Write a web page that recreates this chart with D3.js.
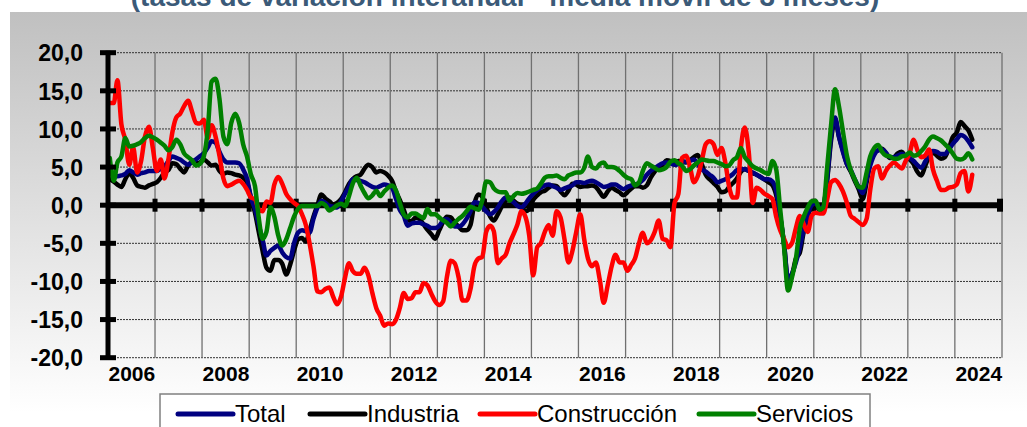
<!DOCTYPE html>
<html>
<head>
<meta charset="utf-8">
<script src="https://cdn.jsdelivr.net/npm/d3@7"></script>
<style>
  body { margin: 0; background: #fff; }
  svg { display: block; font-family: "Liberation Sans", Arial, sans-serif; }
</style>
</head>
<body>
<script>
// chart data: monthly values, Jan 2006 .. May 2024
const startYear = 2006, endYear = 2025;
const yearLabels = ["2006", "2008", "2010", "2012", "2014", "2016", "2018", "2020", "2022", "2024"];
const yTicks = [-20, -15, -10, -5, 0, 5, 10, 15, 20];
const seriesNames = ["Total", "Industria", "Construcción", "Servicios"];

const total = [
  4.3, 4.0, 3.8, 3.9, 4.1, 4.6, 4.3, 4.0, 4.2, 4.3, 4.5, 4.5,
  4.5, 4.8, 5.1, 5.8, 6.4, 6.2, 6.0, 5.6, 5.3, 5.7, 6.0, 6.4,
  6.8, 7.6, 8.4, 8.2, 7.0, 6.0, 5.6, 5.6, 5.6, 5.5, 4.7, 3.5,
  1.0, -0.5, -2.5, -4.5, -6.6, -6.0, -5.6, -5.3, -6.2, -6.8, -7.0, -5.0,
  -3.6, -3.3, -3.4, -3.6, -1.8, -0.3, 0.6, 0.3, -0.1, -0.2, -0.3, 0.5,
  1.5, 2.4, 3.4, 3.3, 3.2, 3.0, 2.7, 2.4, 2.3, 2.5, 2.7, 2.6,
  2.3, 0.8, -0.6, -1.4, -2.7, -2.4, -2.3, -2.3, -2.5, -2.7, -3.0, -3.0,
  -2.7, -2.0, -1.8, -2.3, -2.8, -2.8, -2.5, -1.8, -0.8, 0.4, 0.3, -0.2,
  -0.8, -1.2, -0.9, -0.3, 0.5, 1.0, 0.7, 0.4, -0.1, -0.3, 0.2, 0.9,
  1.5, 2.0, 2.3, 2.6, 2.7, 2.5, 2.3, 2.0, 2.2, 2.4, 2.6, 3.0,
  3.0, 2.9, 3.1, 3.2, 3.0, 2.7, 2.4, 2.5, 2.7, 2.7, 2.4, 2.1,
  2.4, 2.6, 2.7, 2.9, 3.3, 4.0, 4.5, 4.9, 5.2, 5.5, 5.6, 5.5,
  5.3, 5.4, 5.6, 5.7, 5.8, 6.0, 5.4, 4.7, 4.4, 4.0, 3.6, 3.0,
  3.2, 3.4, 3.7, 4.1, 4.6, 4.7, 4.7, 4.5, 4.3, 4.0, 3.7, 3.4,
  3.4, 3.1, 1.9, -1.4, -5.1, -9.6, -9.0, -7.5, -5.5, -3.2, -1.2, 0.0,
  0.3, -0.4, -0.2, 3.5, 9.0, 11.5, 9.0, 7.0, 5.4, 4.6, 3.4, 2.4,
  1.6, 3.4, 5.2, 6.6, 7.2, 7.3, 6.9, 6.3, 6.3, 6.5, 6.7, 6.5,
  6.2, 5.8, 5.3, 4.9, 5.7, 6.6, 7.1, 7.0, 6.7, 6.7, 7.3, 8.0,
  8.6, 9.2, 9.0, 8.4, 7.6
];

const industria = [
  3.4, 3.1, 2.7, 2.4, 3.4, 4.2, 3.6, 2.6, 2.4, 2.3, 2.6, 2.8,
  3.0, 3.6, 4.3, 4.6, 5.5, 5.4, 4.8, 4.3, 5.2, 5.6, 5.5, 5.6,
  6.0, 5.6, 5.2, 5.3, 4.5, 4.1, 4.3, 4.2, 4.0, 3.9, 3.6, 3.0,
  0.9, -1.0, -3.4, -6.0, -8.2, -8.6, -7.2, -7.2, -7.7, -9.1, -7.8, -6.0,
  -4.5, -4.3, -4.8, -3.3, -1.5, 0.0, 1.4, 0.9, 0.5, 0.1, 0.3, 0.8,
  1.7, 2.8, 3.4, 3.8, 4.0, 4.8, 5.3, 5.0, 4.3, 4.5, 4.3, 3.9,
  3.2, 1.8, 0.7, -0.6, -1.9, -2.1, -1.6, -1.8, -2.5, -3.2, -3.8, -4.4,
  -3.3, -2.2, -1.5, -1.6, -2.3, -2.8, -3.3, -3.3, -2.6, 0.2, 1.4, 1.1,
  -0.2, -1.5, -2.0, -1.2, -0.2, 0.6, 1.0, 0.6, 0.2, -0.1, -0.8, -0.5,
  0.7, 1.3, 1.7, 1.9, 2.3, 2.6, 2.5, 1.8, 1.3, 1.9, 2.8, 2.7,
  2.4, 2.5, 2.5, 2.6, 2.4, 1.7, 1.1, 1.8, 2.3, 2.0, 1.7, 1.3,
  1.7, 2.2, 2.5, 2.5, 2.3, 2.6, 3.6, 4.4, 5.0, 5.3, 5.9, 5.8,
  5.4, 5.8, 5.8, 5.6, 5.9, 6.3, 6.6, 5.4, 4.0, 3.4, 2.9, 2.4,
  1.7, 1.8, 2.4, 2.9, 3.5, 4.4, 4.7, 4.5, 4.2, 4.0, 3.7, 3.4,
  3.0, 2.6, 1.3, -1.5, -5.0, -10.0, -9.2, -7.0, -6.2, -3.5, -1.5, -0.1,
  0.2, -0.7, -0.2, 3.3, 8.5, 11.3, 9.0, 7.2, 5.4, 4.4, 3.2, 2.1,
  0.8, 3.0, 5.6, 6.9, 7.2, 7.4, 6.8, 6.2, 6.3, 6.8, 7.0, 6.4,
  6.0, 5.4, 4.4, 3.9, 5.1, 6.4, 6.9, 6.5, 6.1, 6.3, 7.4, 8.9,
  9.5, 10.9, 10.4, 9.8, 8.6
];

const construccion = [
  13.4, 13.4, 16.4, 10.6, 8.6, 5.3, 7.6, 4.3, 5.8, 9.0, 10.3, 7.5,
  4.5, 6.0, 3.5, 6.0, 9.5, 11.5, 12.0, 13.0, 13.7, 12.3, 10.8, 10.7,
  11.2, 8.8, 10.5, 9.0, 6.5, 3.5, 2.5, 2.7, 3.0, 3.2, 2.8, 2.0,
  1.0, 0.8, -0.5, -0.8, 0.5, 0.3, 2.7, 3.7, 2.8, 1.5, 0.8, 0.3,
  -0.1, -1.2, -2.5, -5.0, -8.0, -11.3, -11.4, -11.0, -10.8, -12.0, -13.0, -12.0,
  -9.5, -7.6, -8.6, -9.0, -9.0, -8.2, -9.2, -11.5, -13.5, -14.5, -15.8, -15.5,
  -15.6, -15.0, -13.5, -11.5, -12.3, -12.2, -11.4, -11.4, -10.2, -10.5, -11.6, -12.6,
  -13.1, -12.6, -9.5, -7.3, -7.6, -9.5, -12.5, -12.5, -11.0, -8.0, -7.0, -6.8,
  -3.5, -2.7, -3.4, -7.6, -7.0, -6.5, -5.0, -3.8, -2.5, -0.8, -1.5, -4.0,
  -9.2, -5.5, -5.0, -3.5, -2.6, -4.0, -0.8, -1.6, -4.5, -7.5, -6.0, -3.5,
  -1.2, -4.5, -7.0, -8.0, -7.5, -9.8, -12.8, -10.5, -8.0, -6.5, -7.5, -7.5,
  -8.6, -7.8, -7.0, -5.0, -3.6, -5.0, -4.6, -3.5, -2.0, -4.4, -4.6, -5.5,
  0.2, 1.5, 6.2, 6.5, 5.1, 3.0, 3.8, 5.8, 8.0, 8.4, 8.0, 6.6,
  7.5, 5.5, 2.5, 1.0, 1.0, 7.5, 10.2, 7.0, 0.3, 2.3, 2.0, 1.5,
  1.2, 0.8, -1.5, -3.3, -4.4, -5.5, -5.0, -3.0, -1.4, -2.5, -3.5, -1.4,
  -1.0, -1.1, -1.1, 0.8, 3.0, 3.3, 2.8, 1.8, 0.3, -1.4, -1.8, -2.2,
  -2.6, -1.8, 2.0, 4.8, 5.1, 3.5, 4.5, 5.2, 5.6, 5.2, 4.8, 5.8,
  6.8, 8.6, 7.3, 6.3, 6.5, 7.3, 4.7, 3.2, 2.0, 2.0, 2.3, 2.4,
  2.7, 4.2, 4.5, 1.8, 4.0
];

const servicios = [
  6.2, 3.2, 5.6, 6.4, 8.8, 7.7, 7.8, 8.0, 8.3, 8.8, 9.1, 8.9,
  8.6, 8.2, 7.8, 7.2, 7.6, 8.6, 8.0, 6.8, 6.3, 5.9, 5.2, 5.4,
  6.4, 10.0, 16.2, 16.6, 14.0, 9.0, 8.0, 10.8, 12.0, 10.8, 8.0, 6.4,
  4.0, 2.5, -1.5, -4.4, -3.5, -0.3, -1.5, -4.0, -5.3, -4.5, -3.0, -1.5,
  -0.5, -0.1, -0.1, -0.1, -0.1, -0.1, 0.3, 0.0, -0.7, -0.4, 0.0, 0.2,
  -0.1, 1.2, 2.8, 3.6, 2.6, 1.6, 0.9, 1.3, 1.9, 1.2, 1.8, 2.3,
  2.6, 1.9, 0.3, -1.2, -1.6, -1.1, -1.1, -1.4, -1.7, -0.5, -1.2, -1.2,
  -1.6, -2.0, -2.3, -2.8, -2.3, -1.8, -1.4, -0.8, -0.2, -0.4, -0.6, 0.6,
  3.1, 3.0, 2.2, 1.8, 1.7, 1.7, 0.6, 1.2, 1.6, 1.5, 1.6, 1.8,
  2.0, 2.2, 2.8, 3.6, 3.8, 3.8, 3.9, 3.6, 3.4, 3.9, 4.1, 4.3,
  4.3, 4.9, 6.4, 5.0, 4.8, 5.4, 5.6, 5.0, 5.0, 4.9, 4.5, 4.0,
  3.6, 3.4, 2.6, 3.0, 4.5, 5.5, 5.2, 4.9, 4.6, 4.7, 5.0, 5.7,
  5.9, 5.5, 5.2, 4.5, 4.7, 5.2, 5.6, 6.0, 5.9, 5.8, 5.8, 5.6,
  5.4, 5.1, 5.2, 5.9, 6.3, 7.5, 6.3, 5.7, 5.1, 4.8, 4.6, 4.3,
  4.1, 5.8, 4.7, -0.5, -5.5, -11.2, -9.5, -7.0, -3.0, -1.5, -0.3, 0.5,
  0.6, -0.6, -0.3, 5.0, 10.5, 15.2, 13.0, 9.7, 6.5, 4.6, 3.4, 2.4,
  2.3, 4.3, 6.4, 7.5, 7.9, 7.0, 6.5, 6.4, 6.1, 6.1, 6.4, 6.5,
  6.9, 6.5, 6.6, 7.1, 7.7, 8.6, 9.0, 8.8, 8.5, 8.0, 7.5, 6.8,
  6.1, 6.0, 6.2, 6.8, 6.0
];

const seriesColors = ["#000080", "#000000", "#ff0000", "#008000"];
const seriesData = [total, industria, construccion, servicios];

// layout
const width = 1027, height = 427;
const plotLeft = 108, plotRight = 1002, plotTop = 52.7, plotBottom = 357.7;

const svg = d3.select("body").append("svg")
  .attr("width", width)
  .attr("height", height);

// background gradient panel
const defs = svg.append("defs");
const grad = defs.append("linearGradient")
  .attr("id", "bg").attr("x1", 0).attr("y1", 0).attr("x2", 0).attr("y2", 1);
grad.append("stop").attr("offset", "0%").attr("stop-color", "#c0c0c0");
grad.append("stop").attr("offset", "100%").attr("stop-color", "#ffffff");

svg.append("rect")
  .attr("x", 10).attr("y", 12)
  .attr("width", width - 10).attr("height", 401)
  .attr("fill", "url(#bg)");

// title (partly cut off at the top, as in the source)
svg.append("text")
  .attr("x", 505).attr("y", 6)
  .attr("text-anchor", "middle")
  .attr("fill", "#3b5a78")
  .style("font-size", "28px")
  .style("font-weight", "bold")
  .text("(tasas de variación interanual - media móvil de 3 meses)");

// scales
const x = d3.scaleTime()
  .domain([new Date(startYear, 0, 1), new Date(endYear, 0, 1)])
  .range([plotLeft, plotRight]);

const y = d3.scaleLinear()
  .domain([-20, 20])
  .range([plotBottom, plotTop]);

const monthDate = i => new Date(startYear, i, 15);

const esLocale = d3.formatLocale({ decimal: ",", thousands: ".", grouping: [3], currency: ["", " €"], minus: "-" });
const fmt = esLocale.format(".1f");

// horizontal dotted grid
svg.append("g")
  .selectAll("line")
  .data(yTicks.filter(d => d !== 0))
  .enter()
  .append("line")
  .attr("x1", plotLeft).attr("x2", plotRight)
  .attr("y1", d => y(d)).attr("y2", d => y(d))
  .attr("stroke", "#333")
  .attr("stroke-width", 1)
  .attr("stroke-dasharray", "2,1");

// vertical year grid
const yearStarts = d3.range(startYear + 1, endYear + 1).map(yr => new Date(yr, 0, 1));
svg.append("g")
  .selectAll("line")
  .data(yearStarts)
  .enter()
  .append("line")
  .attr("x1", d => x(d)).attr("x2", d => x(d))
  .attr("y1", plotTop).attr("y2", plotBottom)
  .attr("stroke", "#707070")
  .attr("stroke-width", 1.3);

// zero axis
svg.append("line")
  .attr("x1", plotLeft).attr("x2", plotRight)
  .attr("y1", y(0)).attr("y2", y(0))
  .attr("stroke", "#000")
  .attr("stroke-width", 6);

svg.append("g")
  .selectAll("rect")
  .data(yearStarts)
  .enter()
  .append("rect")
  .attr("x", (d, i) => x(d) - (i === yearStarts.length - 1 ? 5 : 2.5))
  .attr("width", (d, i) => i === yearStarts.length - 1 ? 6 : 5)
  .attr("y", y(0) - 6.5)
  .attr("height", 13)
  .attr("fill", "#000");

// series lines
const line = d3.line()
  .x((d, i) => x(monthDate(i)))
  .y(d => y(d))
  .curve(d3.curveMonotoneX);

const drawOrder = [1, 0, 2, 3];
svg.append("g")
  .selectAll("path")
  .data(drawOrder)
  .enter()
  .append("path")
  .attr("d", k => line(seriesData[k]))
  .attr("fill", "none")
  .attr("stroke", k => seriesColors[k])
  .attr("stroke-width", 4.5)
  .attr("stroke-linejoin", "round")
  .attr("stroke-linecap", "round");

// y axis
const yAxis = svg.append("g")
  .attr("transform", `translate(${plotLeft},0)`)
  .call(d3.axisLeft(y).tickValues(yTicks).tickFormat(fmt).tickSize(0).tickPadding(25));
yAxis.select(".domain").remove();
yAxis.selectAll("text")
  .attr("fill", "#000")
  .style("font-size", "23px")
  .style("font-weight", "bold")
  .attr("dy", "0.36em");

svg.append("line")
  .attr("x1", plotLeft).attr("x2", plotLeft)
  .attr("y1", plotTop - 2).attr("y2", plotBottom + 2)
  .attr("stroke", "#000")
  .attr("stroke-width", 5);

svg.append("g")
  .selectAll("rect")
  .data(yTicks)
  .enter()
  .append("rect")
  .attr("x", plotLeft - 8).attr("width", 16)
  .attr("y", d => y(d) - 2.5).attr("height", 5)
  .attr("fill", "#000");

// x labels centred in their year
const xAxis = svg.append("g")
  .attr("transform", `translate(0,${plotBottom})`)
  .call(d3.axisBottom(x)
    .tickValues(yearLabels.map(s => new Date(+s, 6, 1)))
    .tickFormat((d, i) => yearLabels[i])
    .tickSize(0).tickPadding(8));
xAxis.select(".domain").remove();
xAxis.selectAll("text")
  .attr("fill", "#000")
  .style("font-size", "21px")
  .style("font-weight", "bold");

// legend
const legend = svg.append("g");
legend.append("rect")
  .attr("x", 160).attr("y", 394)
  .attr("width", 710).attr("height", 45)
  .attr("fill", "#fff")
  .attr("stroke", "#808080")
  .attr("stroke-width", 1.5);

const legendX = [178, 310, 480, 699];
const items = legend.selectAll("g.item")
  .data(seriesNames)
  .enter()
  .append("g")
  .attr("class", "item")
  .attr("transform", (d, i) => `translate(${legendX[i]},414)`);

items.append("line")
  .attr("x1", 0).attr("x2", 55)
  .attr("stroke", (d, i) => seriesColors[i])
  .attr("stroke-width", 5)
  .attr("stroke-linecap", "round");

items.append("text")
  .attr("x", 57).attr("y", 8)
  .style("font-size", "24px")
  .text(d => d);
</script>
</body>
</html>
